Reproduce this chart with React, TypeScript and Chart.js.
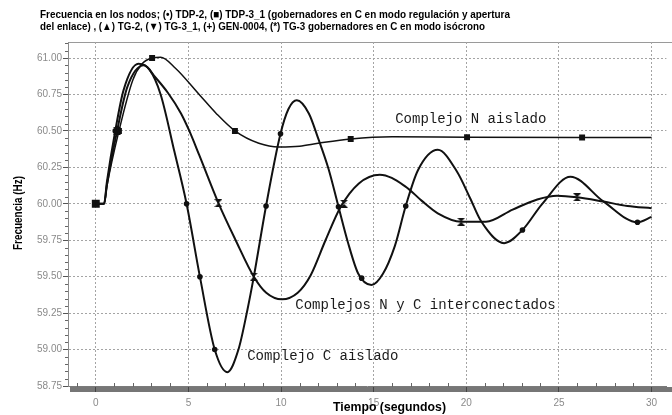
import React, { useEffect, useRef } from "react";
import { Chart, registerables } from "chart.js";

Chart.register(...registerables);

// ---------- text ----------
const titleLines = [
  "Frecuencia en los nodos; (•) TDP-2, (■) TDP-3_1 (gobernadores en C en modo regulación y apertura",
  "del enlace) , (▲) TG-2, (▼) TG-3_1, (+) GEN-0004, (*) TG-3 gobernadores en C en modo isócrono",
];
const xAxisTitle = "Tiempo (segundos)";
const yAxisTitle = "Frecuencia (Hz)";

// ---------- ticks ----------
const xTicks = [0, 5, 10, 15, 20, 25, 30];
const yTicks = [58.75, 59.0, 59.25, 59.5, 59.75, 60.0, 60.25, 60.5, 60.75, 61.0];

// ---------- series: Complejo C aislado ----------
const cTime = [0, 0.45, 0.6, 1.05, 1.5, 2.3, 2.9, 3.5, 4.24, 4.9, 5.62, 6.42, 7.1, 7.7, 8.18, 8.53, 9.19, 9.97, 10.4, 10.85, 11.5, 12.0, 12.56, 13.1, 13.6, 14.17, 14.88, 15.5, 16.14, 16.73, 17.39, 18.46, 19.5, 20.2, 20.8, 22.04, 23.03, 24.1, 25.62, 27.41, 29.24, 30.0];
const cFreq = [60.0, 60.0, 60.15, 60.5, 60.78, 60.96, 60.92, 60.75, 60.36, 60.0, 59.5, 59.0, 58.845, 59.0, 59.27, 59.5, 59.985, 60.48, 60.65, 60.71, 60.62, 60.45, 60.24, 59.98, 59.74, 59.52, 59.443, 59.52, 59.71, 59.985, 60.23, 60.37, 60.22, 60.04, 59.88, 59.73, 59.82, 60.0, 60.186, 60.015, 59.873, 59.91];

// ---------- series: Complejos N y C interconectados ----------
const icTime = [0, 0.45, 0.6, 1.15, 1.7, 2.6, 3.2, 3.9, 4.6, 5.05, 5.58, 6.62, 7.55, 8.53, 9.2, 10.05, 10.9, 11.6, 12.4, 13.2, 14.2, 15.33, 16.7, 17.6, 18.46, 19.72, 21.06, 22.5, 23.83, 24.9, 25.98, 27.41, 28.7, 30.0];
const icFreq = [60.0, 60.0, 60.13, 60.5, 60.8, 60.95, 60.87, 60.76, 60.62, 60.5, 60.335, 60.005, 59.75, 59.5, 59.39, 59.345, 59.39, 59.51, 59.75, 59.975, 60.14, 60.2, 60.12, 60.02, 59.935, 59.877, 59.877, 59.96, 60.03, 60.056, 60.045, 60.015, 59.985, 59.97];

// ---------- series: Complejo N aislado ----------
const nTime = [0, 0.45, 0.6, 1.25, 2.0, 2.5, 3.04, 3.5, 4.3, 5.58, 6.5, 7.51, 8.8, 9.9, 11.0, 12.0, 13.76, 16.0, 20.04, 26.25, 30.0];
const nFreq = [60.0, 60.0, 60.12, 60.5, 60.85, 60.96, 61.0, 61.005, 60.93, 60.75, 60.62, 60.5, 60.415, 60.39, 60.395, 60.415, 60.445, 60.46, 60.457, 60.455, 60.455];

// ---------- markers ----------
const cMarkTime = [1.05, 4.9, 5.62, 6.42, 9.19, 9.97, 13.1, 14.35, 16.73, 23.03, 29.24];
const cMarkFreq = [60.5, 60.0, 59.5, 59.0, 59.985, 60.48, 59.98, 59.49, 59.985, 59.82, 59.873];
const icMarkTime = [1.15, 6.62, 8.53, 13.4, 19.72, 25.98];
const icMarkFreq = [60.5, 60.005, 59.5, 60.0, 59.877, 60.045];
const nMarkTime = [0, 1.25, 3.04, 7.51, 13.76, 20.04, 26.25];
const nMarkFreq = [60.0, 60.5, 61.0, 60.5, 60.445, 60.457, 60.455];

// ---------- in-plot labels ----------
const annoTexts = ["Complejo N aislado", "Complejos N y C interconectados", "Complejo C aislado"];
const annoTime = [16.16, 10.77, 8.17];
const annoFreq = [60.58, 59.306, 58.951];

const pts = (xs: number[], ys: number[]) => xs.map((x, i) => ({ x, y: ys[i] }));

function makeHourglass(size: number): HTMLCanvasElement {
  const c = document.createElement("canvas");
  c.width = size;
  c.height = size;
  const g = c.getContext("2d")!;
  g.fillStyle = "#111";
  g.beginPath();
  g.moveTo(0, 0);
  g.lineTo(size, 0);
  g.lineTo(0, size);
  g.lineTo(size, size);
  g.closePath();
  g.fill();
  return c;
}

function drawSqueezed(ctx: CanvasRenderingContext2D, text: string, x: number, y: number, targetW: number) {
  const w = ctx.measureText(text).width;
  const sx = w > 0 ? targetW / w : 1;
  ctx.save();
  ctx.translate(x, y);
  ctx.scale(sx, 1);
  ctx.fillText(text, 0, 0);
  ctx.restore();
}

const decorPlugin = {
  id: "decor",
  beforeDraw(chart: any) {
    const ctx = chart.ctx as CanvasRenderingContext2D;
    const { left, top, bottom } = chart.chartArea;
    ctx.save();
    ctx.fillStyle = "#ffffff";
    ctx.fillRect(0, 0, chart.width, chart.height);
    // shadow bar under x axis
    ctx.fillStyle = "#767676";
    ctx.fillRect(left + 2, bottom + 1, chart.width - left - 2, 5);
    // top frame line
    ctx.strokeStyle = "#9a9a9a";
    ctx.lineWidth = 1;
    ctx.beginPath();
    ctx.moveTo(left, top + 0.5);
    ctx.lineTo(chart.width, top + 0.5);
    ctx.stroke();
    ctx.restore();
  },
  afterDraw(chart: any) {
    const ctx = chart.ctx as CanvasRenderingContext2D;
    const xs = chart.scales.x;
    const ys = chart.scales.y;
    const { left, bottom } = chart.chartArea;
    ctx.save();
    // minor ticks
    ctx.strokeStyle = "#666";
    ctx.lineWidth = 1;
    ctx.beginPath();
    for (let i = 0; i <= 47; i++) {
      if (i % 5 === 0) continue;
      const py = Math.round(ys.getPixelForValue(58.75 + i * 0.05)) + 0.5;
      ctx.moveTo(left - 3, py);
      ctx.lineTo(left, py);
    }
    for (let t = -1; t <= 30; t++) {
      if (t % 5 === 0) continue;
      const px = Math.round(xs.getPixelForValue(t)) + 0.5;
      ctx.moveTo(px, bottom - 3);
      ctx.lineTo(px, bottom + 1);
    }
    ctx.stroke();

    // in-plot labels
    ctx.fillStyle = "#1a1a1a";
    ctx.font = "14px 'Courier New', 'Liberation Mono', monospace";
    ctx.textAlign = "left";
    ctx.textBaseline = "middle";
    annoTexts.forEach((txt, i) => {
      ctx.fillText(txt, xs.getPixelForValue(annoTime[i]), ys.getPixelForValue(annoFreq[i]));
    });

    // title
    ctx.fillStyle = "#000";
    ctx.font = "bold 11px 'Liberation Sans Narrow', 'Arial Narrow', 'Liberation Sans', Arial, sans-serif";
    ctx.textBaseline = "middle";
    drawSqueezed(ctx, titleLines[0], 40, 15, 470);
    drawSqueezed(ctx, titleLines[1], 40, 26.5, 445);

    // x axis title
    ctx.font = "bold 13px 'Liberation Sans Narrow', 'Arial Narrow', 'Liberation Sans', Arial, sans-serif";
    drawSqueezed(ctx, xAxisTitle, 333, 407, 113);

    // y axis title
    ctx.translate(18, 213);
    ctx.rotate(-Math.PI / 2);
    ctx.textAlign = "left";
    drawSqueezed(ctx, yAxisTitle, -37, 0, 74);
    ctx.restore();
  },
};

export default function App() {
  const ref = useRef<HTMLCanvasElement | null>(null);

  useEffect(() => {
    document.body.style.margin = "0";
    const canvas = ref.current;
    if (!canvas) return;
    const hourglass = makeHourglass(8);
    const lineBase = {
      borderColor: "#111",
      backgroundColor: "#111",
      pointRadius: 0,
      fill: false,
      cubicInterpolationMode: "monotone" as const,
    };
    const chart = new Chart(canvas, {
      type: "line",
      data: {
        datasets: [
          { ...lineBase, label: "Complejo C aislado", data: pts(cTime, cFreq), borderWidth: 2 },
          { ...lineBase, label: "Complejos N y C interconectados", data: pts(icTime, icFreq), borderWidth: 2 },
          { ...lineBase, label: "Complejo N aislado", data: pts(nTime, nFreq), borderWidth: 1.5 },
          {
            label: "C marcas",
            data: pts(cMarkTime, cMarkFreq),
            showLine: false,
            pointStyle: "circle",
            pointRadius: 2.8,
            pointBackgroundColor: "#111",
            pointBorderColor: "#111",
            pointBorderWidth: 0,
          },
          {
            label: "NC marcas",
            data: pts(icMarkTime, icMarkFreq),
            showLine: false,
            pointStyle: hourglass,
            pointRadius: 4,
          },
          {
            label: "N marcas",
            data: pts(nMarkTime, nMarkFreq),
            showLine: false,
            pointStyle: "rect",
            pointRadius: nMarkTime.map((_, i) => (i === 0 ? 5.6 : 4.2)),
            pointBackgroundColor: "#111",
            pointBorderColor: "#111",
            pointBorderWidth: 0,
          },
        ],
      },
      options: {
        responsive: false,
        animation: false,
        devicePixelRatio: 1,
        layout: { padding: { top: 42, right: 2, left: 0, bottom: 0 } },
        plugins: {
          legend: { display: false },
          title: { display: false },
          tooltip: { enabled: false },
        },
        scales: {
          x: {
            type: "linear",
            min: -1.5,
            max: 30.8,
            afterFit: (s: any) => {
              s.height = 29;
            },
            afterBuildTicks: (s: any) => {
              s.ticks = xTicks.map((v) => ({ value: v }));
            },
            ticks: {
              color: "#8a8a8a",
              font: { family: "Arial, 'Liberation Sans', sans-serif", size: 10 },
              padding: 5,
              maxRotation: 0,
              callback: (v: any) => String(v),
            },
            grid: {
              color: "#a4a4a4",
              lineWidth: 1,
              drawTicks: true,
              tickLength: 6,
              tickColor: "#444",
            },
            border: { display: true, color: "#7a7a7a", width: 1, dash: [2, 2] },
          },
          y: {
            type: "linear",
            min: 58.75,
            max: 61.11,
            afterFit: (s: any) => {
              s.width = 68;
            },
            afterBuildTicks: (s: any) => {
              s.ticks = yTicks.map((v) => ({ value: v }));
            },
            ticks: {
              color: "#8a8a8a",
              font: { family: "Arial, 'Liberation Sans', sans-serif", size: 10 },
              padding: 1,
              callback: (v: any) => Number(v).toFixed(2),
            },
            grid: {
              color: "#a4a4a4",
              lineWidth: 1,
              drawTicks: true,
              tickLength: 5,
              tickColor: "#555",
            },
            border: { display: true, color: "#8a8a8a", width: 1, dash: [2, 2] },
          },
        },
      },
      plugins: [decorPlugin],
    });
    return () => chart.destroy();
  }, []);

  return (
    <div style={{ width: 672, height: 415 }}>
      <canvas ref={ref} width={672} height={415} style={{ display: "block" }} />
    </div>
  );
}
